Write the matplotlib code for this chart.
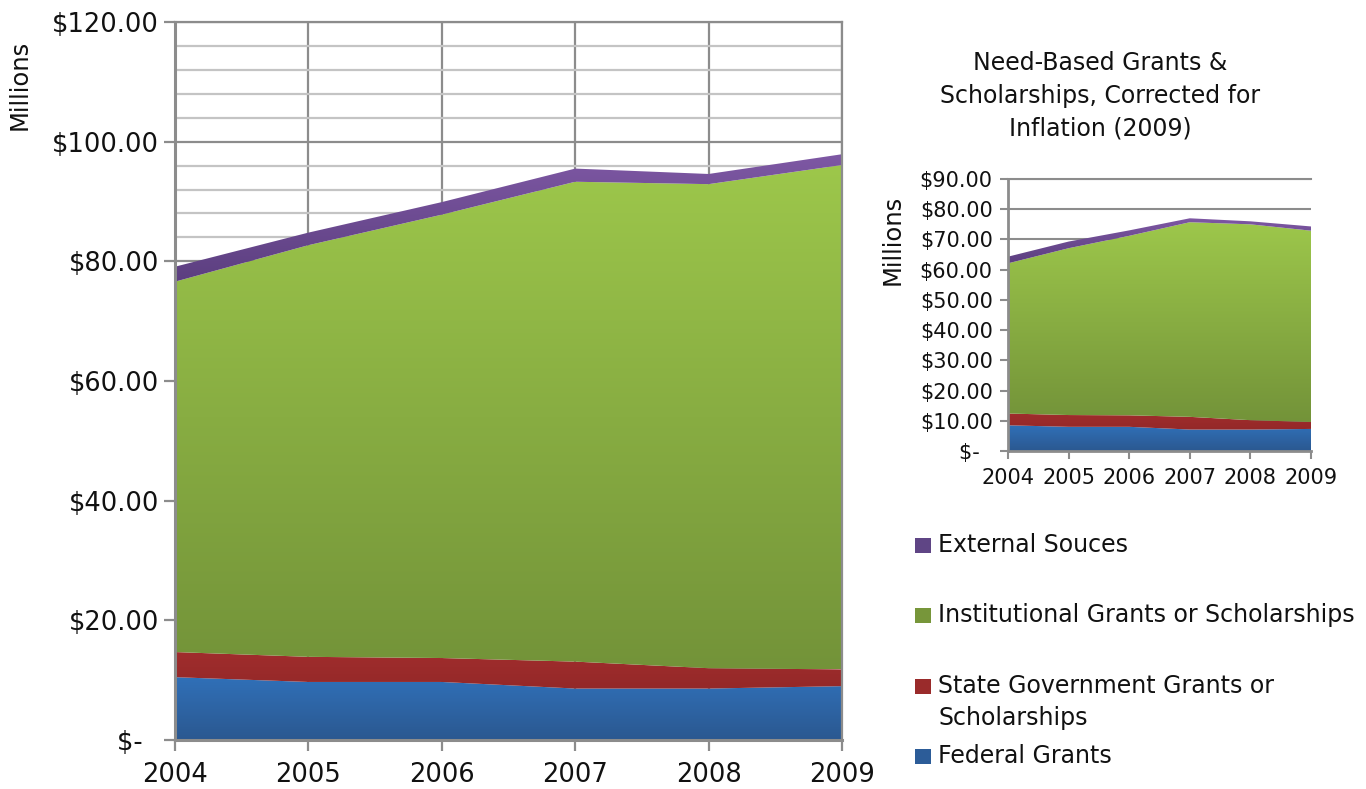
import numpy as np
import matplotlib
matplotlib.use("Agg")
import matplotlib.pyplot as plt
from matplotlib.path import Path
from matplotlib.patches import PathPatch, Rectangle
from matplotlib.ticker import MultipleLocator, FuncFormatter
from matplotlib.colors import to_rgb

plt.rcParams['font.family'] = ['DejaVu Sans']

# ---- data (millions of dollars) ----
years = [2004, 2005, 2006, 2007, 2008, 2009]

federal = [10.5, 9.7, 9.7, 8.6, 8.6, 9.0]
state = [4.2, 4.2, 4.0, 4.5, 3.4, 2.8]
institutional = [61.9, 68.8, 74.1, 80.2, 80.9, 84.3]
external = [2.5, 2.1, 2.1, 2.2, 1.7, 1.8]

federal_adj = [8.5, 8.0, 8.0, 7.1, 7.1, 7.3]
state_adj = [3.9, 3.9, 3.8, 4.2, 3.1, 2.3]
institutional_adj = [49.7, 55.2, 59.4, 64.4, 64.8, 63.3]
external_adj = [2.2, 2.2, 1.8, 1.3, 1.0, 1.4]

series_names = ["Federal Grants",
                "State Government Grants or\nScholarships",
                "Institutional Grants or Scholarships",
                "External Souces"]

# (top colour, bottom colour, legend swatch)
series_colors = [
    ("#3070B8", "#2B5890", "#2C5C98"),
    ("#A02D2D", "#942828", "#9A2B2B"),
    ("#9DC74B", "#739339", "#77963A"),
    ("#7E58A4", "#5C3F80", "#5F4585"),
]

GRID_DARK = "#8C8C8C"
GRID_LIGHT = "#C4C4C4"


def money(v, pos=None):
    # accounting style: the zero dash keeps room on its right
    return "$-  " if abs(v) < 1e-9 else f"${v:.2f}"


def gradient_band(ax, x, lower, upper, c_top, c_bottom, zorder):
    x = np.asarray(x, float)
    lower = np.asarray(lower, float)
    upper = np.asarray(upper, float)
    verts = np.vstack([np.column_stack([x, lower]),
                       np.column_stack([x[::-1], upper[::-1]]),
                       [[x[0], lower[0]]]])
    codes = [Path.MOVETO] + [Path.LINETO] * (len(verts) - 2) + [Path.CLOSEPOLY]
    patch = PathPatch(Path(verts, codes), facecolor=c_bottom, edgecolor="none",
                      lw=0, zorder=zorder - 0.1, alpha=0.0)
    ax.add_patch(patch)
    t = np.linspace(0, 1, 256)[:, None, None]
    top = np.array(to_rgb(c_top))[None, None, :]
    bot = np.array(to_rgb(c_bottom))[None, None, :]
    rgb = bot + (top - bot) * t
    img = ax.imshow(rgb, extent=[x[0], x[-1], lower.min(), upper.max()],
                    origin="lower", aspect="auto", interpolation="bilinear",
                    zorder=zorder)
    img.set_clip_path(patch)


def stacked(ax, layers):
    base = np.zeros(len(years))
    for i, vals in enumerate(layers):
        top = base + np.asarray(vals, float)
        ct, cb, _ = series_colors[i]
        gradient_band(ax, years, base, top, ct, cb, zorder=2 + i * 0.01)
        base = top


fig = plt.figure(figsize=(13.66, 7.89), dpi=100)
W, H = 1366, 789

# ---- main chart ----
ax = fig.add_axes([175 / W, 1 - 740 / H, (842 - 175) / W, (740 - 22) / H])
stacked(ax, [federal, state, institutional, external])
ax.set_xlim(2004, 2009)
ax.set_ylim(0, 120)
ax.set_xticks(years)
ax.set_xticklabels([str(y) for y in years])
ax.yaxis.set_major_locator(MultipleLocator(20))
ax.yaxis.set_minor_locator(MultipleLocator(4))
ax.yaxis.set_major_formatter(FuncFormatter(money))
ax.set_axisbelow(True)
ax.grid(True, which="major", axis="both", color=GRID_DARK, lw=1.6)
ax.grid(True, which="minor", axis="y", color=GRID_LIGHT, lw=1.6)
for s in ax.spines.values():
    s.set_color(GRID_DARK)
    s.set_linewidth(1.6)
ax.spines["left"].set_linewidth(2.2)
ax.spines["bottom"].set_linewidth(2.2)
ax.tick_params(axis="both", which="major", direction="out", length=8,
               width=1.6, color=GRID_DARK, labelsize=18.5, labelcolor="#111111")
ax.tick_params(axis="y", which="major", pad=3.5)
ax.tick_params(axis="x", which="major", pad=8)
ax.tick_params(axis="y", which="minor", length=0)
fig.text(20 / W, 1 - 85 / H, "Millions", rotation=90, ha="center", va="center",
         fontsize=17.5, color="#111111")

# ---- inflation-adjusted chart ----
ax2 = fig.add_axes([1008 / W, 1 - 451 / H, (1311 - 1008) / W, (451 - 179) / H])
stacked(ax2, [federal_adj, state_adj, institutional_adj, external_adj])
ax2.set_xlim(2004, 2009)
ax2.set_ylim(0, 90)
ax2.set_xticks(years)
ax2.set_xticklabels([str(y) for y in years])
ax2.yaxis.set_major_locator(MultipleLocator(10))
ax2.yaxis.set_major_formatter(FuncFormatter(money))
ax2.set_axisbelow(True)
ax2.grid(True, which="major", axis="y", color=GRID_DARK, lw=1.5)
ax2.spines["right"].set_visible(False)
for s in ("top", "left", "bottom"):
    ax2.spines[s].set_color(GRID_DARK)
    ax2.spines[s].set_linewidth(1.5)
ax2.spines["left"].set_linewidth(2.0)
ax2.spines["bottom"].set_linewidth(2.0)
ax2.tick_params(axis="both", which="major", direction="out", length=6,
                width=1.5, color=GRID_DARK, labelsize=15, labelcolor="#111111")
ax2.tick_params(axis="y", pad=5)
ax2.tick_params(axis="x", pad=6)
fig.text(893 / W, 1 - 240 / H, "Millions", rotation=90, ha="center", va="center",
         fontsize=17.5, color="#111111")

fig.text(1100 / W, 1 - 96 / H,
         "Need-Based Grants &\nScholarships, Corrected for\nInflation (2009)",
         ha="center", va="center", fontsize=17, linespacing=1.45, color="#111111")

# ---- legend ----
legend_rows = [(3, 545), (2, 615), (1, 686), (0, 756)]
for idx, yc in legend_rows:
    fig.patches.append(Rectangle((915 / W, 1 - (yc + 7.5) / H), 16 / W, 15 / H,
                                 transform=fig.transFigure,
                                 facecolor=series_colors[idx][2], edgecolor="none"))
    lines = series_names[idx].split("\n")
    for k, line in enumerate(lines):
        fig.text(938 / W, 1 - (yc + 32 * k) / H, line, ha="left", va="center",
                 fontsize=17, color="#111111")

fig.savefig("out.png", dpi=100)
